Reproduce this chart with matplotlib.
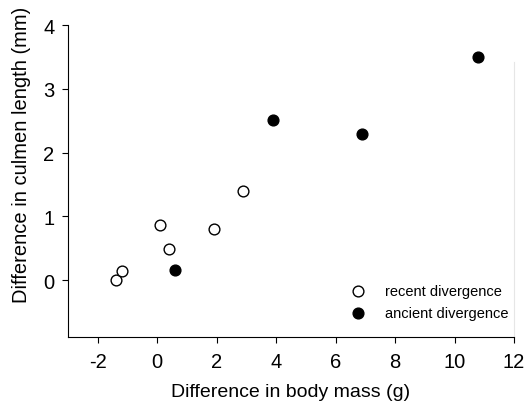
import matplotlib.pyplot as plt

plt.rcParams['font.family'] = ['Liberation Sans', 'DejaVu Sans']
plt.rcParams['axes.unicode_minus'] = False

# recent divergence (open circles)
recent_x = [-1.4, -1.2, 0.1, 0.4, 1.9, 2.9]
recent_y = [0.0, 0.15, 0.86, 0.49, 0.80, 1.40]
# ancient divergence (filled circles)
ancient_x = [0.6, 3.9, 6.9, 10.8]
ancient_y = [0.16, 2.51, 2.29, 3.50]

xticks = [-2, 0, 2, 4, 6, 8, 10, 12]
yticks = [0, 1, 2, 3, 4]

fig = plt.figure(figsize=(5.26, 4.10), dpi=100)
ax = fig.add_axes([68 / 526, 1 - 338 / 410, (514 - 68) / 526, (338 - 26) / 410])

ax.scatter(recent_x, recent_y, s=60, facecolor='white', edgecolor='black',
           linewidth=1.0, zorder=3, label='recent divergence')
ax.scatter(ancient_x, ancient_y, s=60, facecolor='black', edgecolor='black',
           linewidth=1.0, zorder=3, label='ancient divergence')

# faint line on the right edge seen in the original
ax.plot([12, 12], [-0.89, 3.42], color='#e6e6e6', lw=0.8, clip_on=False, zorder=1)

ax.set_xlim(-3, 12)
ax.set_ylim(-0.89, 4)
ax.set_xticks(xticks)
ax.set_yticks(yticks)
ax.spines['top'].set_visible(False)
ax.spines['right'].set_visible(False)
ax.tick_params(direction='out', length=4.3, width=0.8, labelsize=14.5)
ax.tick_params(axis='x', pad=6.3)
ax.tick_params(axis='y', pad=5.5)

ax.set_xlabel('Difference in body mass (g)', fontsize=14, labelpad=9)
ax.set_ylabel('Difference in culmen length (mm)', fontsize=14.5)
ax.yaxis.set_label_coords(-0.082, (338 - 155) / 312)

ax.legend(loc='lower right', bbox_to_anchor=(1.0 + 8 / 446, 4 / 312), frameon=False,
          fontsize=10.5, handletextpad=0.9, labelspacing=0.55)

fig.savefig('out.png', dpi=100)
